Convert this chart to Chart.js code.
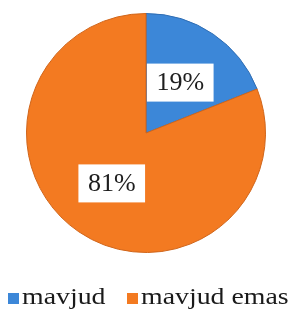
<!DOCTYPE html>
<html>
<head>
<meta charset="utf-8">
<script src="https://cdn.jsdelivr.net/npm/chart.js@4/dist/chart.umd.min.js"></script>
<style>
  html, body { margin: 0; padding: 0; background: #ffffff; }
  #wrap { width: 296px; height: 313px; position: relative; }
</style>
</head>
<body>
<div id="wrap"><canvas id="chart"></canvas></div>
<script>
const categories = ['mavjud', 'mavjud emas'];
const shares = [19, 81];
const sliceColors = ['#3c87d8', '#f37a21'];
const edgeColors = ['#2f6db3', '#d0651a'];

const serif = '"Liberation Serif", "Times New Roman", serif';

// white boxed percentage labels inside each slice
const boxLabels = {
    id: 'boxLabels',
    afterDatasetsDraw(chart) {
        const ctx = chart.ctx;
        const total = shares.reduce((a, b) => a + b, 0);
        chart.getDatasetMeta(0).data.forEach((arc, i) => {
            const mid = (arc.startAngle + arc.endAngle) / 2;
            const r = arc.outerRadius * 0.51;
            const x = arc.x + Math.cos(mid) * r;
            const y = arc.y + Math.sin(mid) * r;
            const text = Math.round(shares[i] / total * 100) + '%';
            ctx.save();
            ctx.font = '26px ' + serif;
            const w = ctx.measureText(text).width + 19;
            const h = 38;
            ctx.fillStyle = '#ffffff';
            ctx.fillRect(x - w / 2, y - h / 2, w, h);
            ctx.fillStyle = '#1e1e1e';
            ctx.textAlign = 'center';
            ctx.textBaseline = 'middle';
            ctx.fillText(text, x, y + 1);
            ctx.restore();
        });
    }
};

// legend drawn under the pie, letters a little stretched like the source
const bottomLegend = {
    id: 'bottomLegend',
    afterDraw(chart) {
        const ctx = chart.ctx;
        const xs = [8, 127];
        const y = 298;
        ctx.save();
        ctx.font = '24px ' + serif;
        ctx.textBaseline = 'middle';
        categories.forEach((c, i) => {
            ctx.fillStyle = sliceColors[i];
            ctx.fillRect(xs[i], y - 5, 11, 11);
            ctx.fillStyle = '#1a1a1a';
            ctx.save();
            ctx.translate(xs[i] + 14, y);
            ctx.scale(1.16, 1);
            ctx.fillText(c, 0, 0);
            ctx.restore();
        });
        ctx.restore();
    }
};

function draw() {
    new Chart(document.getElementById('chart'), {
        type: 'pie',
        data: {
            labels: categories,
            datasets: [{
                data: shares,
                backgroundColor: sliceColors,
                borderColor: edgeColors,
                borderWidth: 1
            }]
        },
        options: {
            responsive: true,
            maintainAspectRatio: false,
            animation: false,
            layout: {
                padding: { left: 26, right: 30, top: 13, bottom: 60 }
            },
            plugins: {
                legend: { display: false },
                tooltip: { enabled: false }
            }
        },
        plugins: [boxLabels, bottomLegend]
    });
}

document.fonts.load('24px "Liberation Serif"').then(draw, draw);
</script>
</body>
</html>
